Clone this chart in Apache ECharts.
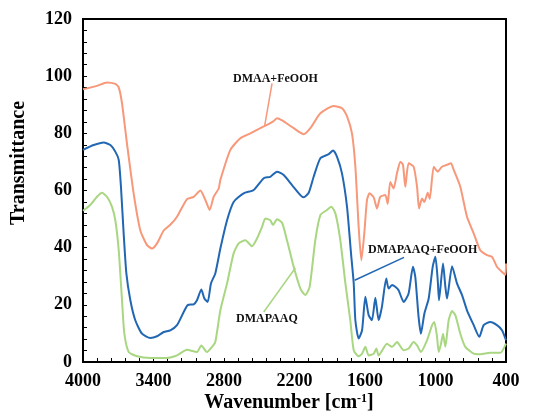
<!DOCTYPE html>
<html>
<head>
<meta charset="utf-8">
<script src="https://cdn.jsdelivr.net/npm/echarts@6/dist/echarts.min.js"></script>
<style>
  html, body { margin: 0; padding: 0; background: #fff; }
  #chart { width: 554px; height: 420px; }
</style>
</head>
<body>
<div id="chart"></div>
<script>
// tick labels
const xLabels = [400, 1000, 1600, 2200, 2800, 3400, 4000];
const yLabels = [0, 20, 40, 60, 80, 100, 120];

// DMAA+FeOOH (orange)
const dmaaX = [4000, 3881, 3796, 3725, 3696, 3668, 3626, 3569, 3512, 3455, 3413, 3370, 3313, 3257, 3200, 3115, 3058, 3001, 2959, 2922, 2888, 2845, 2831, 2746, 2661, 2576, 2462, 2377, 2349, 2306, 2207, 2122, 2065, 1980, 1867, 1796, 1753, 1711, 1682, 1654, 1631, 1606, 1583, 1561, 1526, 1498, 1470, 1427, 1407, 1385, 1356, 1328, 1299, 1277, 1257, 1229, 1186, 1157, 1140, 1115, 1095, 1066, 1049, 1015, 981, 945, 902, 868, 845, 789, 732, 675, 619, 562, 519, 477, 434, 405, 400];
const dmaaY = [95.4, 96.6, 97.8, 97.3, 96.1, 90.5, 76.5, 59, 46, 40.9, 39.7, 41.5, 46, 48, 50.8, 57, 57.8, 60, 56.7, 53.2, 57.8, 60.7, 63.7, 74.2, 78.3, 80, 82.4, 84.3, 85.3, 84.5, 81.8, 79.7, 81.8, 87, 89.6, 88.8, 85.9, 80, 68.3, 47.3, 35.6, 45, 56.7, 59, 57.6, 53.7, 57.8, 58.4, 55.3, 63, 60.7, 66, 70.1, 69, 61.3, 69.5, 68.3, 61.3, 53.7, 57.2, 56, 59.2, 57, 68.3, 66.6, 68.3, 69, 69.5, 67.2, 61.3, 50.8, 45, 39.1, 37.4, 36.8, 33.3, 31.5, 30.5, 34.5];

// DMAPAAQ+FeOOH (blue)
const dmapFeX = [4000, 3909, 3824, 3767, 3725, 3696, 3677, 3654, 3631, 3597, 3555, 3498, 3427, 3370, 3313, 3257, 3200, 3143, 3109, 3058, 3030, 2993, 2967, 2939, 2911, 2874, 2831, 2774, 2718, 2633, 2547, 2462, 2406, 2349, 2292, 2221, 2150, 2122, 2079, 2037, 1980, 1909, 1872, 1838, 1796, 1753, 1719, 1696, 1682, 1654, 1625, 1597, 1569, 1541, 1512, 1484, 1456, 1419, 1399, 1370, 1342, 1314, 1271, 1229, 1192, 1172, 1144, 1124, 1095, 1058, 1024, 1001, 981, 970, 936, 916, 902, 859, 817, 774, 732, 675, 627, 590, 534, 477, 434, 400];
const dmapFeY = [74.2, 75.9, 76.8, 75.9, 73.6, 70.7, 61.3, 45, 31, 21.6, 14.6, 9.9, 8.4, 9, 10.5, 11.1, 12.9, 17.5, 19.9, 20.2, 21.6, 25.4, 22.2, 21, 27.5, 31, 39.7, 49.6, 56, 59, 60.2, 64.3, 64.8, 66.6, 65.4, 61.9, 58.4, 57.6, 59.2, 64.8, 71.3, 72.7, 74, 71.8, 66, 54.3, 38, 27.5, 14.6, 8.2, 11.1, 22.8, 16.4, 14.6, 22.5, 14.6, 19.3, 29.2, 25.7, 26.9, 26.3, 25.1, 21, 24, 33.3, 29.8, 15.8, 9.9, 16.9, 22.2, 33.3, 36.8, 28.6, 21.6, 34.5, 26.3, 22.2, 33.5, 27.5, 23.4, 18.1, 12.9, 8.8, 12.9, 14, 12.9, 11.1, 7.6];

// DMAPAAQ (green)
const dmapX = [4000, 3938, 3881, 3838, 3796, 3753, 3725, 3696, 3668, 3648, 3611, 3540, 3427, 3285, 3200, 3115, 3030, 2993, 2945, 2902, 2874, 2831, 2774, 2718, 2675, 2618, 2562, 2519, 2476, 2448, 2406, 2383, 2349, 2306, 2264, 2207, 2150, 2108, 2071, 2023, 1980, 1924, 1887, 1852, 1810, 1767, 1725, 1696, 1654, 1625, 1597, 1569, 1526, 1503, 1484, 1413, 1370, 1328, 1271, 1229, 1186, 1157, 1124, 1072, 1029, 1010, 987, 973, 953, 936, 916, 888, 859, 831, 789, 746, 675, 619, 534, 448, 400];
const dmapY = [52.9, 54.9, 57.8, 59.2, 57.8, 54.3, 49.6, 39.1, 21.6, 9.9, 3.5, 2, 1.4, 1.4, 2.3, 4.3, 3.5, 5.8, 3.5, 5.3, 7, 18.1, 27.5, 38, 41.5, 42.6, 40.5, 43.2, 47.3, 50.2, 49.6, 47.9, 49.9, 48.7, 42.6, 33.3, 25.7, 23.4, 26.3, 42.6, 51.4, 53.2, 54.3, 52, 42.6, 27.5, 14.6, 4.1, 2, 2.9, 5.3, 2.3, 2.9, 4.7, 2.3, 6.4, 5.3, 7, 4.1, 4.7, 7, 5.8, 3.5, 7.6, 12.9, 14, 8.8, 3.5, 6.4, 9.9, 5.3, 14.6, 17.8, 16.4, 9.9, 5.3, 2.9, 2.7, 3.2, 3.2, 6.4];

const names = ['DMAA+FeOOH', 'DMAPAAQ+FeOOH', 'DMAPAAQ'];
const colors = ['#F7987A', '#2167B3', '#A8D681'];

// leader lines [from, to] in data space
const leaders = [
  [[2391, 97.5], [2454, 82.6]],
  [[1688, 28.6], [1268, 36.6]],
  [[2462, 17.5], [2193, 32.9]]
];

const zip = (xs, ys) => xs.map((x, i) => [x, ys[i]]);
const seriesData = [zip(dmaaX, dmaaY), zip(dmapFeX, dmapFeY), zip(dmapX, dmapY)];

const xTicks = [];
for (let v = 400; v <= 4000; v += 120) xTicks.push(v);
const yTicks = [];
for (let v = 0; v <= 120; v += 4) yTicks.push(v);

const font = '"Liberation Serif", "Times New Roman", serif';

const chart = echarts.init(document.getElementById('chart'));
chart.setOption({
  animation: false,
  grid: { left: 83, right: 48, top: 19, bottom: 58, show: true, borderColor: '#000', borderWidth: 2 },
  xAxis: {
    type: 'value', inverse: true, min: 400, max: 4000,
    axisLine: { lineStyle: { color: '#000', width: 2 } },
    axisTick: { inside: true, length: 4, customValues: xTicks, lineStyle: { color: '#000', width: 1 } },
    axisLabel: { customValues: xLabels, formatter: v => String(v), margin: 10, color: '#000', fontFamily: font, fontWeight: 'bold', fontSize: 18 },
    splitLine: { show: false }
  },
  yAxis: {
    type: 'value', min: 0, max: 120, interval: 20,
    axisLine: { show: true, lineStyle: { color: '#000', width: 2 } },
    axisTick: { show: true, inside: true, length: 4, customValues: yTicks, lineStyle: { color: '#000', width: 1 } },
    axisLabel: { customValues: yLabels, formatter: v => String(v), margin: 11, color: '#000', fontFamily: font, fontWeight: 'bold', fontSize: 18 },
    splitLine: { show: false }
  },
  series: names.map((n, i) => ({
    name: n,
    type: 'line',
    data: seriesData[i],
    showSymbol: false,
    smooth: 0.2,
    lineStyle: { color: colors[i], width: 2 },
    z: 3 - i,
    markLine: {
      silent: true, symbol: 'none', label: { show: false },
      lineStyle: { color: colors[i], width: 1.5, type: 'solid' },
      data: [[{ coord: leaders[i][0] }, { coord: leaders[i][1] }]]
    }
  })),
  graphic: [
    { type: 'text', left: 233, top: 73, style: { text: 'DMAA+FeOOH', fill: '#111', font: 'bold 12px ' + font } },
    { type: 'text', left: 368, top: 244, style: { text: 'DMAPAAQ+FeOOH', fill: '#111', font: 'bold 12px ' + font } },
    { type: 'text', left: 236, top: 313, style: { text: 'DMAPAAQ', fill: '#111', font: 'bold 12px ' + font } },
    { type: 'text', x: 19, y: 163, rotation: Math.PI / 2,
      style: { text: 'Transmittance', fill: '#000', font: 'bold 20px ' + font, align: 'center', verticalAlign: 'middle' } },
    { type: 'text', x: 289, y: 403,
      style: { text: 'Wavenumber [cm{sup|-1}]', fill: '#000', font: 'bold 20px ' + font, align: 'center', verticalAlign: 'middle',
        rich: { sup: { fontSize: 12, fontWeight: 'bold', fontFamily: font, verticalAlign: 'top', padding: [0, 0, 9, 0] } } } }
  ]
});
</script>
</body>
</html>
